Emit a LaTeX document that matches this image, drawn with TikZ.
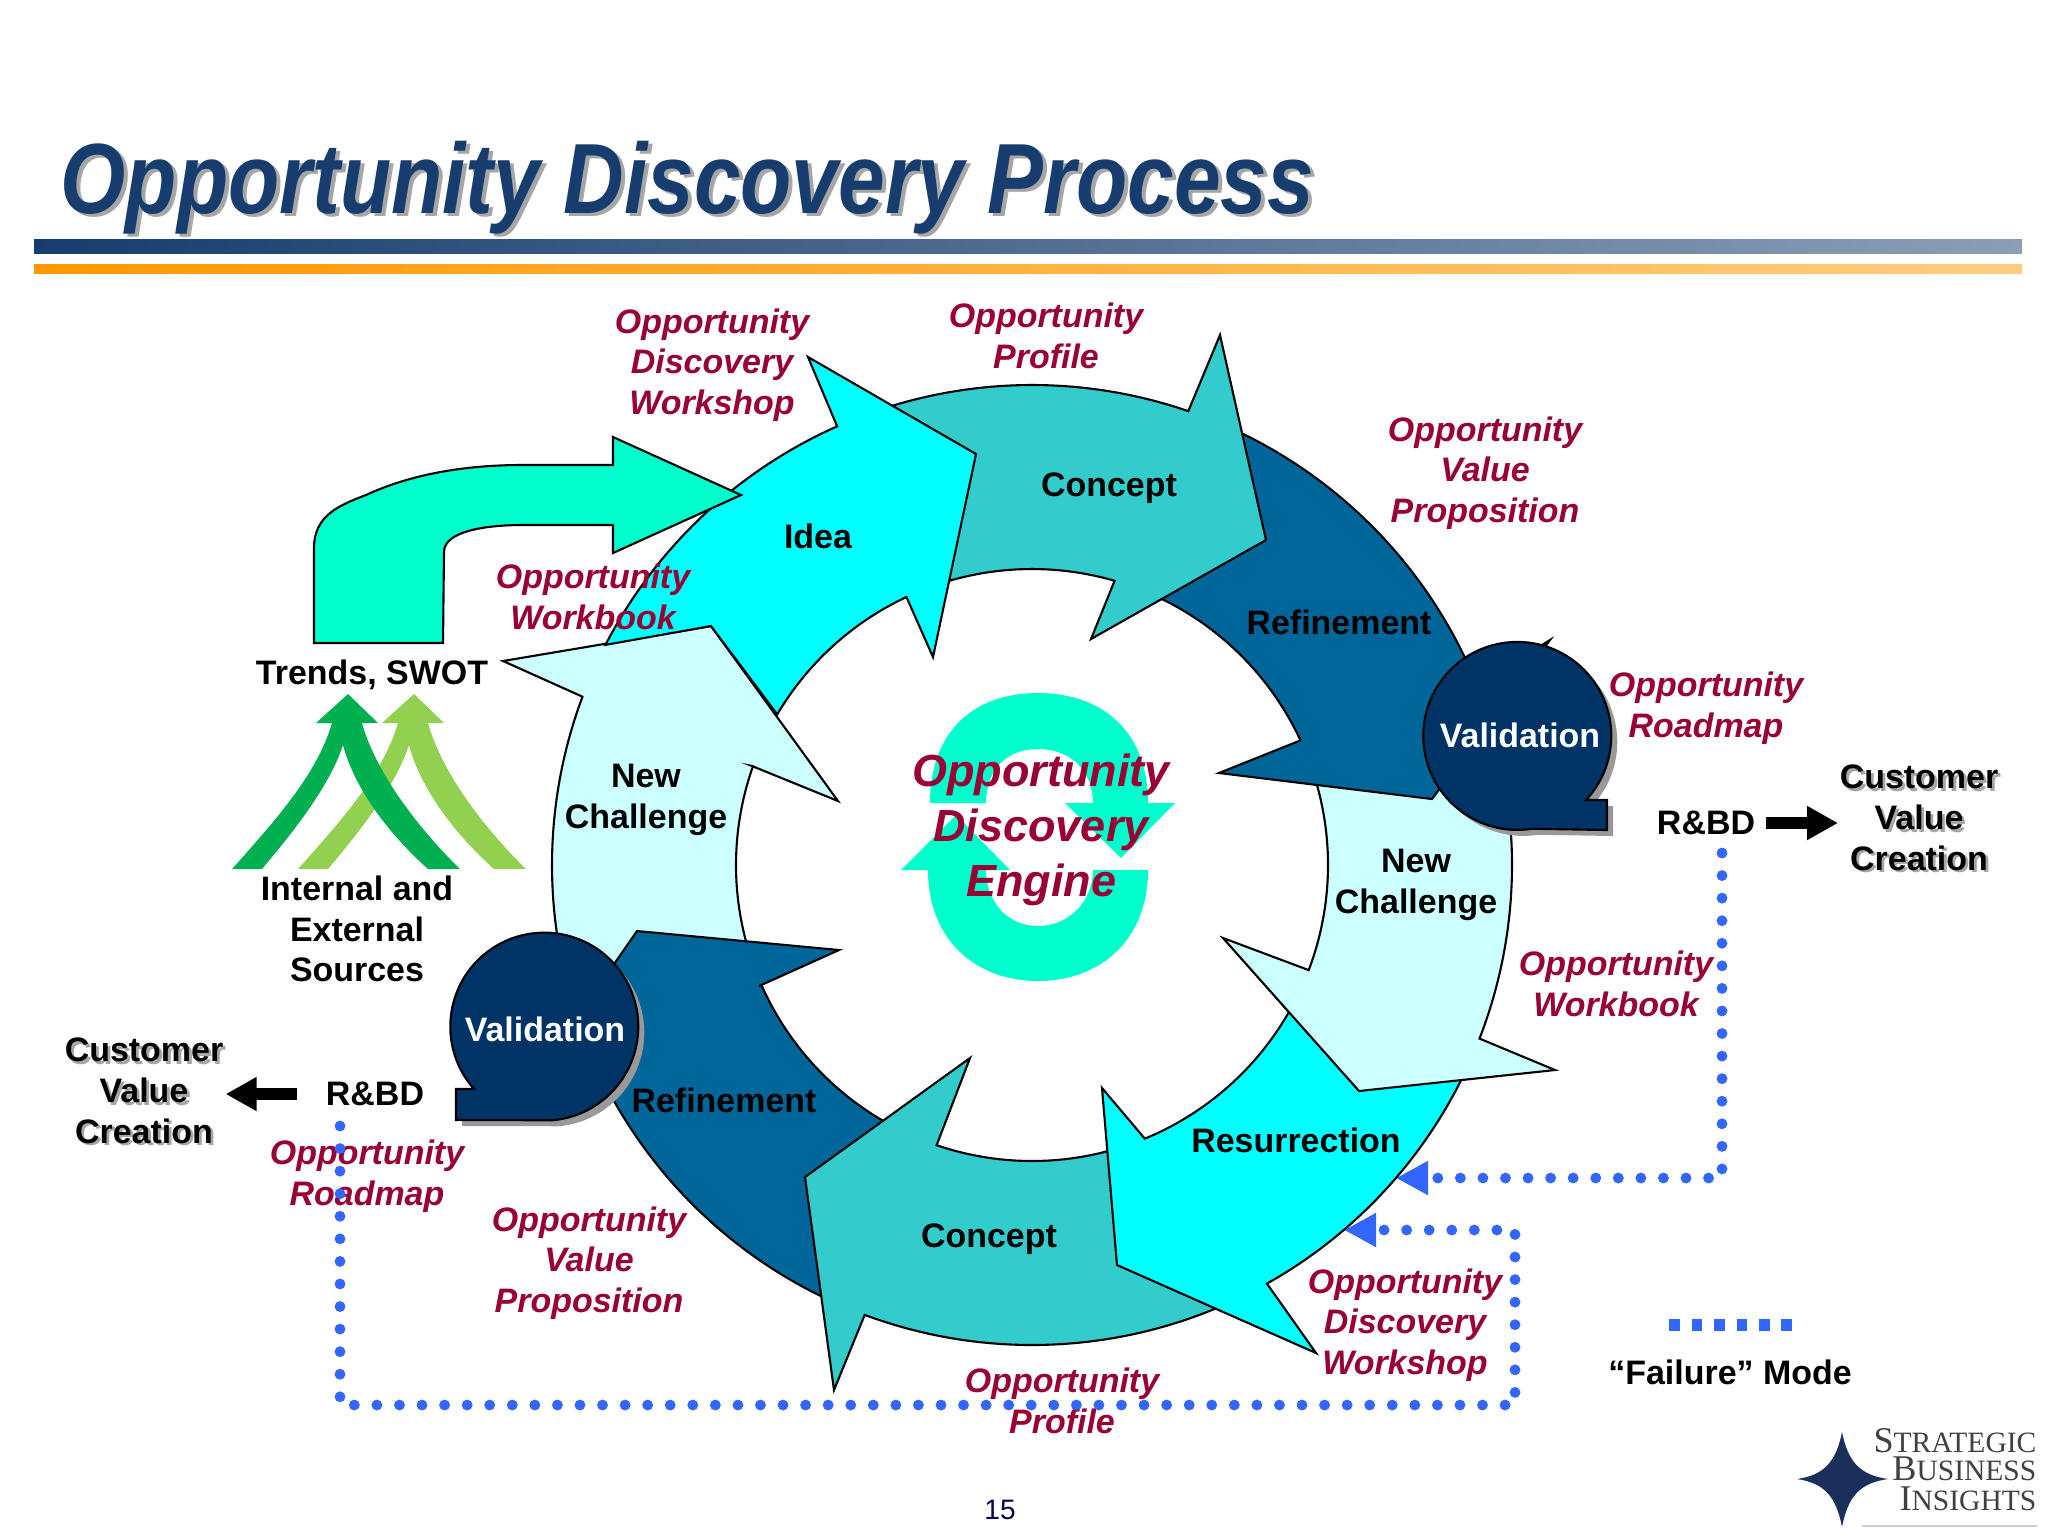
\documentclass[tikz,border=0pt]{standalone}
\usepackage{fontspec}
\setmainfont{Liberation Sans}
\newfontfamily\titlefont{Liberation Sans}[FakeStretch=0.84]
\newfontfamily\logofont{Liberation Serif}
\usetikzlibrary{arrows.meta}

\definecolor{ideacyan}{HTML}{00FFFF}
\definecolor{conceptteal}{HTML}{33CCCC}
\definecolor{refineblue}{HTML}{006699}
\definecolor{challengepale}{HTML}{CCFFFF}
\definecolor{validnavy}{HTML}{003366}
\definecolor{enginegreen}{HTML}{00FFCC}
\definecolor{deliverred}{HTML}{990033}
\definecolor{failblue}{HTML}{3366FF}
\definecolor{titlenavy}{HTML}{163D6E}
\definecolor{barorange}{HTML}{FF9900}
\definecolor{barpale}{HTML}{FFCC80}
\definecolor{leafdark}{HTML}{00B050}
\definecolor{leaflight}{HTML}{92D050}
\definecolor{starnavy}{HTML}{1B2F5B}

% Ring geometry, centre at (1032,865) in reference pixels
\newcommand{\outerR}{480}
\newcommand{\innerR}{296}
\newcommand{\ringpt}[2]{({1032+#2*cos(#1)},{865+#2*sin(#1)})}
% colour, outer from, outer to, head points, inner from, inner to
\newcommand{\ringarrow}[6]{%
  \draw[segment, fill=#1] \ringpt{#2}{\outerR} arc[start angle=#2, end angle=#3, radius=\outerR]
    -- #4 -- \ringpt{#5}{\innerR} arc[start angle=#5, end angle=#6, radius=\innerR] -- cycle;}
\newcommand{\shadowed}[1]{\leavevmode\rlap{\raisebox{-0.8pt}{\kern0.8pt\textcolor{black!35}{#1}}}#1}
\newcommand{\chevronpath}{(348,694) -- (378,723) -- (362,723)
  .. controls (375,770) and (415,825) .. (460,869) -- (428,869)
  .. controls (390,835) and (355,790) .. (343,745)
  .. controls (330,785) and (295,830) .. (262,869) -- (232,869)
  .. controls (285,810) and (318,770) .. (332,723) -- (316,723) -- cycle}

\begin{document}
\begin{tikzpicture}[x=0.1mm, y=-0.1mm,
    segment/.style={draw=black, line width=0.6pt, miter limit=20},
    phase/.style={font=\fontsize{9.66}{11.6}\selectfont\bfseries, align=center, inner sep=1.5pt},
    deliver/.style={font=\fontsize{9.66}{11.6}\selectfont\bfseries\itshape, text=deliverred, align=center, inner sep=1.5pt},
    blob/.style={draw=black, line width=0.6pt, fill=validnavy},
    blobshadow/.style={fill=black!40},
    fail/.style={draw=failblue, line width=3.1pt, line cap=round, dash pattern=on 0pt off 6.42pt,
      -{Triangle[length=9.1pt, width=9.1pt]}},
    fat/.style={line width=3.4pt, -{Triangle[length=8.8pt, width=9.1pt]}},
    logotext/.style={font=\logofont, text=black!75, anchor=base east, inner sep=0pt}]
  \useasboundingbox (0,0) rectangle (2048,1536);

  % Title and the two bars
  \node[anchor=base west, inner sep=0pt, text=titlenavy, font=\fontsize{28.4}{30}\selectfont\titlefont\bfseries\itshape] (title) at (60,213)
    {\rlap{\raisebox{-1.1pt}{\kern1.1pt\textcolor{black!35}{Opportunity Discovery Process}}}Opportunity Discovery Process};
  \shade[left color=titlenavy, right color=titlenavy!50] (34,239) rectangle (2022,253);
  \shade[left color=barorange, right color=barpale] (34,264) rectangle (2022,273);

  % Centre engine symbol
  \fill[enginegreen] (930,803) .. controls (930,730) and (975,693) .. (1038,693)
    .. controls (1101,693) and (1148,730) .. (1148,803)
    -- (1175,803) -- (1121,858) -- (1065,803) -- (1093,803)
    .. controls (1093,770) and (1070,749) .. (1038,749)
    .. controls (1006,749) and (986,770) .. (986,803) -- cycle;
  \fill[enginegreen] (1148,870) .. controls (1148,940) and (1100,981) .. (1038,981)
    .. controls (976,981) and (928,940) .. (928,870)
    -- (901,870) -- (956,815) -- (1010,870) -- (986,870)
    .. controls (986,900) and (1006,926) .. (1038,926)
    .. controls (1070,926) and (1093,900) .. (1093,870) -- cycle;

  % Ring arrows, each one lies over the tail of the one before it
  \ringarrow{challengepale}{160}{200.5}{(581,696) -- (503,661) -- (711,626) -- (838,801) -- (752,766)}{199.5}{160}
  \ringarrow{refineblue}{112}{152}{(524,1094) -- (637,931) -- (839,950) -- (759,986)}{156.1}{116}
  \ringarrow{conceptteal}{66}{110.4}{(834,1390) -- (805,1177) -- (970,1058)}{108.8}{72}
  \ringarrow{ideacyan}{23}{60.7}{(1316,1353) -- (1117,1265) -- (1102,1088)}{67.6}{23}
  \ringarrow{challengepale}{-20}{21.2}{(1555,1070) -- (1359,1091) -- (1223,938)}{20.8}{-20}
  \ringarrow{refineblue}{291}{338}{(1550,640) -- (1432,799) -- (1219,773)}{335.1}{291}
  \ringarrow{conceptteal}{250}{289}{(1220,335) -- (1266,540) -- (1091,639)}{286.2}{250}
  % Idea stops on the edge of the left New Challenge head
  \draw[segment, fill=ideacyan] \ringpt{207.3}{\outerR} arc[start angle=207.3, end angle=246.05, radius=\outerR]
    -- (808,357) -- (976,454) -- (933,657)
    -- \ringpt{244.9}{\innerR} arc[start angle=244.9, end angle=210.6, radius=\innerR]
    -- (711,626) -- cycle;

  % Trends arrow
  \draw[segment, fill=enginegreen] (314,643) -- (314,548)
    .. controls (314,515) and (340,505) .. (366,495)
    .. controls (420,470) and (480,465) .. (522,465)
    -- (613,465) -- (613,437) -- (741,495) -- (613,553) -- (613,525) -- (522,525)
    .. controls (490,525) and (444,530) .. (444,552) -- (443,643) -- cycle;

  % Rising arrows
  \fill[leaflight, xshift=6.6mm] \chevronpath;
  \fill[leafdark] \chevronpath;

  % Validation blobs with their shadows
  \fill[blobshadow, shift={(6,6)}] (1586,800) arc[start angle=43, end angle=-279, radius=94] -- (1607,830) -- (1607,800) -- cycle;
  \draw[blob] (1586,800) arc[start angle=43, end angle=-279, radius=94] -- (1607,830) -- (1607,800) -- cycle;
  \fill[blobshadow, shift={(6,6)}] (474,1089) arc[start angle=138.4, end angle=445, radius=94] -- (456,1120) -- (456,1089) -- cycle;
  \draw[blob] (474,1089) arc[start angle=138.4, end angle=445, radius=94] -- (456,1120) -- (456,1089) -- cycle;

  % Phase labels
  \node[phase] (idea) at (818,536) {Idea};
  \node[phase] (conceptT) at (1109,488) {Concept};
  \node[phase] (refineT) at (1339,622) {Refinement};
  \node[phase, text=white] (validR) at (1520,735) {Validation};
  \node[phase] (challengeR) at (1416,885) {New\\Challenge};
  \node[phase] (resurrect) at (1296,1140) {Resurrection};
  \node[phase] (conceptB) at (989,1239) {Concept};
  \node[phase] (refineB) at (724,1100) {Refinement};
  \node[phase, text=white] (validL) at (545,1029) {Validation};
  \node[phase] (challengeL) at (646,800) {New\\Challenge};
  \node[phase] (trends) at (372,675) {Trends, SWOT};
  \node[phase] (sources) at (357,929) {Internal and\\External\\Sources};
  \node[phase] (rbdR) at (1706,823) {R\&BD};
  \node[phase] (rbdL) at (375,1094) {R\&BD};
  \node[phase] (valueR) at (1919,819) {\shadowed{Customer}\\\shadowed{Value}\\\shadowed{Creation}};
  \node[phase] (valueL) at (144,1092) {\shadowed{Customer}\\\shadowed{Value}\\\shadowed{Creation}};
  \node[phase] (failure) at (1730,1372) {“Failure” Mode};
  \node[text=blue!30!black, font=\fontsize{8}{9}\selectfont, inner sep=0pt] (page) at (1000,1510) {15};

  % Deliverables
  \node[deliver] (workshopT) at (712,365) {Opportunity\\Discovery\\Workshop};
  \node[deliver] (profileT) at (1046,336) {Opportunity\\Profile};
  \node[deliver] (valueT) at (1485,473) {Opportunity\\Value\\Proposition};
  \node[deliver] (roadmapR) at (1706,708) {Opportunity\\Roadmap};
  \node[deliver] (workbookR) at (1616,984) {Opportunity\\Workbook};
  \node[deliver] (workshopB) at (1405,1325) {Opportunity\\Discovery\\Workshop};
  \node[deliver] (profileB) at (1062,1401) {Opportunity\\Profile};
  \node[deliver] (valueB) at (589,1263) {Opportunity\\Value\\Proposition};
  \node[deliver] (roadmapL) at (367,1176) {Opportunity\\Roadmap};
  \node[deliver] (workbookL) at (593,597) {Opportunity\\Workbook};
  \node[deliver, font=\fontsize{12.8}{15.6}\selectfont\bfseries\itshape] (engine) at (1041,830) {Opportunity\\Discovery\\Engine};

  % Exits to customer value
  \draw[fat] ([xshift=1.4pt]rbdR.east) -- ([xshift=1.2pt]rbdR.east -| valueR.west);
  \draw[fat] ([xshift=-6.5pt]rbdL.west) -- ([xshift=-1pt]rbdL.west -| valueL.east);

  % Failure mode return paths
  \coordinate (failA) at (1722,853);
  \coordinate (failAturn) at (1722,1178);
  \coordinate (failAtip) at (1396,1178);
  \coordinate (failB) at (340,1126);
  \coordinate (failBdown) at (340,1405);
  \coordinate (failBright) at (1515,1405);
  \coordinate (failBup) at (1515,1230);
  \coordinate (failBtip) at (1344,1230);
  \draw[fail] (failA) -- (failAturn) -- (failAtip);
  \draw[fail] (failB) -- (failBdown) -- (failBright) -- (failBup) -- (failBtip);

  % Legend dashes
  \coordinate (legendA) at (1669,1325);
  \coordinate (legendB) at (1793,1325);
  \draw[failblue, line width=3.4pt, dash pattern=on 3.1pt off 3.3pt] (legendA) -- (legendB);

  % Logo
  \fill[starnavy] (1842,1432) .. controls (1848,1462) and (1860,1475) .. (1888,1479)
    .. controls (1860,1483) and (1848,1496) .. (1842,1527)
    .. controls (1836,1496) and (1824,1483) .. (1797,1479)
    .. controls (1824,1475) and (1836,1462) .. (1842,1432) -- cycle;
  \node[logotext] (logoA) at (2037,1452) {\fontsize{10.3}{10}\selectfont S\fontsize{8.4}{10}\selectfont TRATEGIC};
  \node[logotext] (logoB) at (2037,1480) {\fontsize{10.3}{10}\selectfont B\fontsize{8.4}{10}\selectfont USINESS};
  \node[logotext] (logoC) at (2037,1510) {\fontsize{10.3}{10}\selectfont I\fontsize{8.4}{10}\selectfont NSIGHTS};
  \draw[black!20, line width=0.5pt] (1862,1526) -- (2037,1526);
\end{tikzpicture}
\end{document}
